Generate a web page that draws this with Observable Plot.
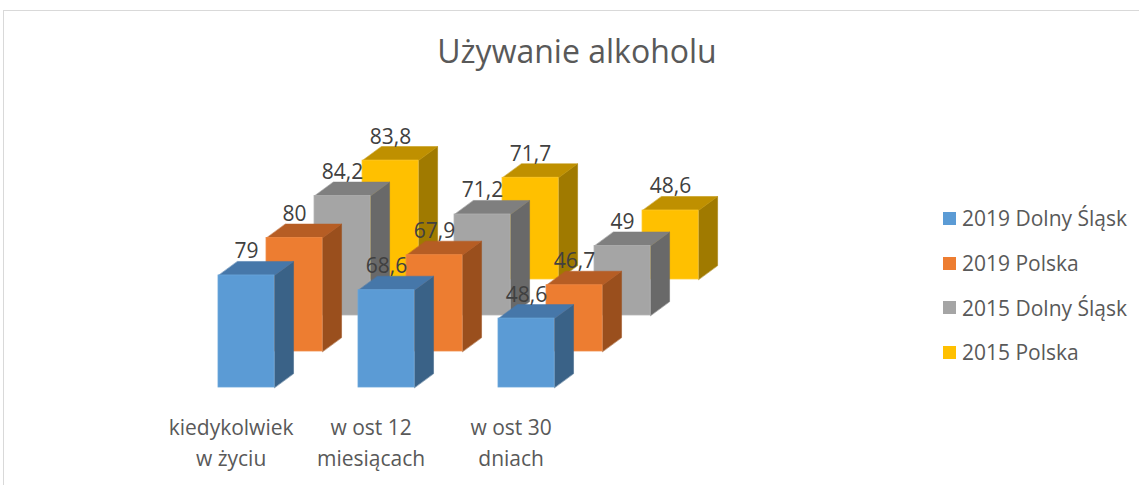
<!DOCTYPE html>
<html><head><meta charset="utf-8">
<script src="https://cdn.jsdelivr.net/npm/d3@7"></script>
<script src="https://cdn.jsdelivr.net/npm/@observablehq/plot@0.6"></script>
<style>
html,body{margin:0;padding:0;background:#fff;}
#wrap{position:relative;width:1139px;height:485px;overflow:hidden;font-family:"Open Sans",sans-serif;}
#border{position:absolute;left:3px;top:10px;width:1200px;height:600px;border-left:1px solid #d9d9d9;border-top:1px solid #d9d9d9;}
#chart{position:absolute;left:0;top:0;}
#title{position:absolute;left:0;width:1154px;top:35px;text-align:center;font-size:32px;line-height:1;color:#595959;white-space:nowrap;}
#legend{position:absolute;left:943px;top:196px;}
.item{display:flex;align-items:center;height:44.7px;font-size:21px;color:#595959;white-space:nowrap;}
.sw{width:13px;height:13px;margin-right:6px;flex-shrink:0;}
</style></head><body>
<div id="wrap"><div id="border"></div><div id="chart"></div><div id="title">Używanie alkoholu</div><div id="legend"></div></div>
<script>
// ---- data ----
const categories = ["kiedykolwiek\nw życiu", "w ost 12\nmiesiącach", "w ost 30\ndniach"];
const seriesNames = ["2019 Dolny Śląsk", "2019 Polska", "2015 Dolny Śląsk", "2015 Polska"];
const v2019DolnySlask = [79, 68.6, 48.6];
const v2019Polska = [80, 67.9, 46.7];
const v2015DolnySlask = [84.2, 71.2, 49];
const v2015Polska = [83.8, 71.7, 48.6];
const seriesValues = [v2019DolnySlask, v2019Polska, v2015DolnySlask, v2015Polska];

// ---- styles ----
const frontColors = ["#5B9BD5", "#ED7D31", "#A5A5A5", "#FFC000"];
const topColors   = ["#4677A9", "#B65D24", "#7F7F7F", "#BF9000"];
const sideColors  = ["#3A6287", "#9A4F1D", "#696969", "#A07A00"];
const edgeColors  = ["#6AA6DA", "#F08A45", "#B0B0B0", "#FFC722"];

// oblique projection constants (in scale units)
const stepX = 0.343, stepY = 25.4;   // offset between series rows (depth)
const barW = 0.4;                      // bar width
const depthX = 0.136, depthY = 9.9;   // bar depth

const bars = [];
seriesValues.forEach((vals, s) => vals.forEach((v, i) => {
  const xl = i + s * stepX, base = s * stepY;
  bars.push({s, i, v, xl, xr: xl + barW, base, top: base + v});
}));

function topVerts(bs) {
  return bs.flatMap(d => [
    {id: d.i, x: d.xl, y: d.top}, {id: d.i, x: d.xr, y: d.top},
    {id: d.i, x: d.xr + depthX, y: d.top + depthY}, {id: d.i, x: d.xl + depthX, y: d.top + depthY}
  ]);
}
function sideVerts(bs) {
  return bs.flatMap(d => [
    {id: d.i, x: d.xr, y: d.base}, {id: d.i, x: d.xr, y: d.top},
    {id: d.i, x: d.xr + depthX, y: d.top + depthY}, {id: d.i, x: d.xr + depthX, y: d.base + depthY}
  ]);
}

const marks = [];
for (let s = 3; s >= 0; s--) {
  const bs = bars.filter(d => d.s === s);
  marks.push(Plot.line(sideVerts(bs), {x: "x", y: "y", z: "id", fill: sideColors[s], stroke: sideColors[s], strokeWidth: 0.5, curve: "linear-closed"}));
  marks.push(Plot.line(topVerts(bs), {x: "x", y: "y", z: "id", fill: topColors[s], stroke: topColors[s], strokeWidth: 0.5, curve: "linear-closed"}));
  marks.push(Plot.rect(bs, {x1: "xl", x2: "xr", y1: "base", y2: "top", fill: frontColors[s], stroke: edgeColors[s], strokeWidth: 0.8}));
}
marks.push(Plot.text(bars, {
  x: d => d.xl + barW / 2, y: d => d.top + depthY,
  text: d => String(d.v).replace(".", ","),
  lineAnchor: "bottom", dy: -3, fontSize: 21, fill: "#404040", fontFamily: "Open Sans"
}));
marks.push(Plot.text(categories, {
  x: (d, i) => i + 0.09, text: d => d, frameAnchor: "bottom",
  lineAnchor: "bottom", dy: -20, lineHeight: 1.43, fontSize: 21, fill: "#595959", fontFamily: "Open Sans"
}));

const chart = Plot.plot({
  width: 1139, height: 485, margin: 0,
  x: {domain: [0, 1], range: [218, 358], axis: null},
  y: {domain: [0, 100], range: [387, 245.2], axis: null},
  style: {background: "transparent", overflow: "visible", fontFamily: "Open Sans"},
  marks
});
document.getElementById("chart").appendChild(chart);

// legend
const lg = d3.select("#legend").selectAll("div.item").data(seriesNames).join("div").attr("class", "item");
lg.append("div").attr("class", "sw").style("background", (d, i) => frontColors[i]);
lg.append("span").text(d => d);
</script>
</body></html>
